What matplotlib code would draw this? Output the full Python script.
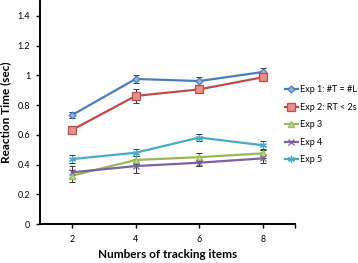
import matplotlib
matplotlib.use('Agg')
from matplotlib import pyplot as plt
from matplotlib.ticker import FixedLocator

plt.rcParams['font.family'] = ['Lato', 'DejaVu Sans']

# ------- data -------
items = [2, 4, 6, 8]

exp1 = [0.733, 0.976, 0.962, 1.023]
exp2 = [0.633, 0.862, 0.906, 0.988]
exp3 = [0.325, 0.431, 0.450, 0.476]
exp4 = [0.348, 0.390, 0.413, 0.442]
exp5 = [0.437, 0.480, 0.582, 0.530]

err1 = [0.02, 0.025, 0.025, 0.03]
err2 = [0.02, 0.045, 0.025, 0.025]
err3 = [0.04, 0.03, 0.025, 0.03]
err4 = [0.04, 0.045, 0.02, 0.03]
err5 = [0.025, 0.025, 0.025, 0.03]

labels = ['Exp 1: #T = #L', 'Exp 2: RT < 2s', 'Exp 3', 'Exp 4', 'Exp 5']
#--------------------

series = [
    [exp1, err1, '#4a7ebb', '#95b3d7', 'D', 3.5],
    [exp2, err2, '#be4b48', '#e6908d', 's', 5.5],
    [exp3, err3, '#98b954', '#c3d69b', '^', 5],
    [exp4, err4, '#7d60a0', '#b3a2c7', 'x', 4.5],
    [exp5, err5, '#46aac5', '#93cddd', (6, 2, 0), 5],
]

fig = plt.figure(figsize=(3.58, 2.63), dpi=100)
ax = fig.add_axes([0.112, 0.148, 0.712, 0.848])

for (y, e, c, fc, m, ms), lab in zip(series, labels):
    ax.errorbar(items, y, yerr=e, fmt='none', ecolor='#333333',
                elinewidth=0.7, capsize=2, capthick=0.7, zorder=2)
    ax.plot(items, y, color=c, linewidth=1.6, marker=m, markersize=ms,
            markerfacecolor=fc, markeredgecolor=c, markeredgewidth=0.9,
            label=lab, zorder=3)

ax.set_xlim(1, 9)
ax.set_ylim(0, 1.5)
ax.set_xticks(items)
ax.xaxis.set_minor_locator(FixedLocator([9]))
ax.set_yticks([0, 0.2, 0.4, 0.6, 0.8, 1.0, 1.2, 1.4])
ax.set_yticklabels(['0', '0.2', '0.4', '0.6', '0.8', '1', '1.2', '1.4'])

for s in ['top', 'right']:
    ax.spines[s].set_visible(False)
for s in ['left', 'bottom']:
    ax.spines[s].set_linewidth(1.4)
    ax.spines[s].set_color('black')

ax.tick_params(axis='both', which='both', direction='out', length=3,
               width=1, labelsize=6.5, pad=4)
ax.tick_params(axis='x', pad=5)

ax.set_xlabel('Numbers of tracking items', fontsize=8.5, fontweight='bold')
ax.set_ylabel('Reaction Time (sec)', fontsize=8.5, fontweight='bold')
ax.xaxis.set_label_coords(0.5, -0.11)
ax.yaxis.set_label_coords(-0.115, 0.5)

fig.legend(loc='upper left', bbox_to_anchor=(0.785, 0.69), frameon=False,
           fontsize=6.5, handlelength=1.5, handletextpad=0.15,
           labelspacing=0.95, borderaxespad=0)

fig.savefig('out.png', dpi=100)
plt.close()
